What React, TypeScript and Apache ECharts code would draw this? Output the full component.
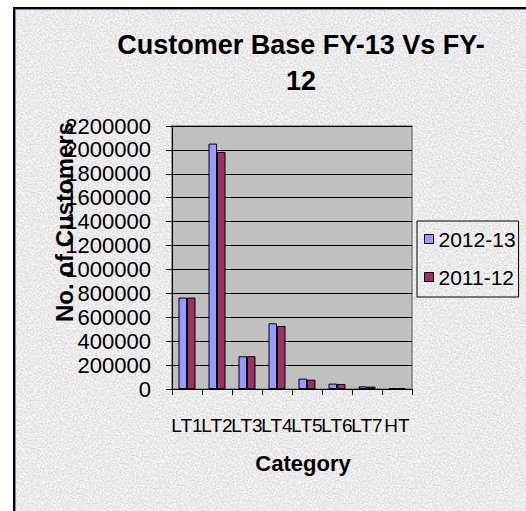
import React, { useEffect, useRef } from 'react';
import * as echarts from 'echarts';

const categories = ['LT1', 'LT2', 'LT3', 'LT4', 'LT5', 'LT6', 'LT7', 'HT'];
const seriesNames = ['2012-13', '2011-12'];
const values2012_13 = [765000, 2053000, 274000, 550000, 87000, 45000, 22000, 8000];
const values2011_12 = [765000, 1983000, 274000, 527000, 78000, 42000, 20000, 7000];
const titleText = 'Customer Base FY-13 Vs FY-\n12';
const yAxisTitle = 'No. of Customers';
const xAxisTitle = 'Category';

const FONT = '"Liberation Sans", Arial, sans-serif';

const noiseSvg =
  "<svg xmlns='http://www.w3.org/2000/svg' width='256' height='256'>" +
  "<filter id='n' x='0' y='0' width='100%' height='100%' color-interpolation-filters='sRGB'>" +
  "<feTurbulence type='fractalNoise' baseFrequency='0.6' numOctaves='2' seed='7'/>" +
  "<feColorMatrix type='matrix' values='0.28 0 0 0 0.78  0.28 0 0 0 0.78  0.28 0 0 0 0.78  0 0 0 0 1'/></filter>" +
  "<rect width='256' height='256' filter='url(#n)'/></svg>";
const noiseUrl = `url("data:image/svg+xml,${encodeURIComponent(noiseSvg)}")`;

export default function App() {
  const ref = useRef<HTMLDivElement>(null);

  useEffect(() => {
    if (!ref.current) return;
    const chart = echarts.init(ref.current, null, { renderer: 'svg' });
    chart.setOption({
      animation: false,
      backgroundColor: 'transparent',
      textStyle: { fontFamily: FONT },
      grid: {
        left: 172,
        top: 126,
        right: 114,
        bottom: 122,
        show: true,
        backgroundColor: '#C0C0C0',
        borderColor: '#808080',
        borderWidth: 1.5,
      },
      legend: {
        data: seriesNames,
        orient: 'vertical',
        left: 417,
        top: 221,
        borderColor: '#000',
        borderWidth: 1,
        padding: [7, 3, 9, 7],
        itemWidth: 9,
        itemHeight: 9,
        itemGap: 16,
        icon: 'rect',
        itemStyle: { borderColor: '#000', borderWidth: 1 },
        textStyle: { fontSize: 21, lineHeight: 22, color: '#000', fontFamily: FONT },
      },
      xAxis: {
        type: 'category',
        data: categories,
        axisLine: { show: true, lineStyle: { color: '#000', width: 1 } },
        axisTick: { show: true, length: 6, lineStyle: { color: '#000' } },
        axisLabel: { interval: 0, fontSize: 19, color: '#000', margin: 27, fontFamily: FONT },
        splitLine: { show: false },
      },
      yAxis: {
        type: 'value',
        min: 0,
        max: 2200000,
        interval: 200000,
        axisLine: { show: true, lineStyle: { color: '#000', width: 1 } },
        axisTick: { show: true, length: 6, lineStyle: { color: '#000' } },
        axisLabel: {
          fontSize: 22,
          color: '#000',
          margin: 21,
          fontFamily: FONT,
          formatter: (v: number) => String(v),
        },
        splitLine: { show: true, lineStyle: { color: '#000', width: 1 } },
      },
      series: [
        {
          name: seriesNames[0],
          type: 'bar',
          data: values2012_13,
          barWidth: 8.5,
          barGap: '0%',
          itemStyle: { color: '#9999FF', borderColor: '#000', borderWidth: 1 },
        },
        {
          name: seriesNames[1],
          type: 'bar',
          data: values2011_12,
          barWidth: 8.5,
          barGap: '0%',
          itemStyle: { color: '#993366', borderColor: '#000', borderWidth: 1 },
        },
      ],
      graphic: [
        {
          type: 'text',
          x: 301,
          y: 27,
          style: {
            text: titleText,
            fontSize: 27,
            fontWeight: 'bold',
            fontFamily: FONT,
            lineHeight: 36,
            textAlign: 'center',
            textVerticalAlign: 'top',
            fill: '#000',
          },
        },
        {
          type: 'text',
          x: 64,
          y: 222,
          rotation: Math.PI / 2,
          style: {
            text: yAxisTitle,
            fontSize: 24,
            fontWeight: 'bold',
            fontFamily: FONT,
            textAlign: 'center',
            textVerticalAlign: 'middle',
            fill: '#000',
          },
        },
        {
          type: 'text',
          x: 303,
          y: 463,
          style: {
            text: xAxisTitle,
            fontSize: 22,
            fontWeight: 'bold',
            fontFamily: FONT,
            textAlign: 'center',
            textVerticalAlign: 'middle',
            fill: '#000',
          },
        },
      ],
    });
    return () => chart.dispose();
  }, []);

  return (
    <div
      style={{
        position: 'fixed',
        left: 0,
        top: 0,
        width: 526,
        height: 511,
        background: '#fff',
        overflow: 'hidden',
      }}
    >
      <div
        style={{
          position: 'absolute',
          left: 13,
          top: 7,
          width: 600,
          height: 600,
          border: '2px solid #000',
          boxShadow: 'inset 1px 1px 0 #6a8cc8',
          backgroundColor: '#e9e9e9',
          backgroundImage: noiseUrl,
        }}
      />
      <div ref={ref} style={{ position: 'absolute', left: 0, top: 0, width: 526, height: 511 }} />
    </div>
  );
}
